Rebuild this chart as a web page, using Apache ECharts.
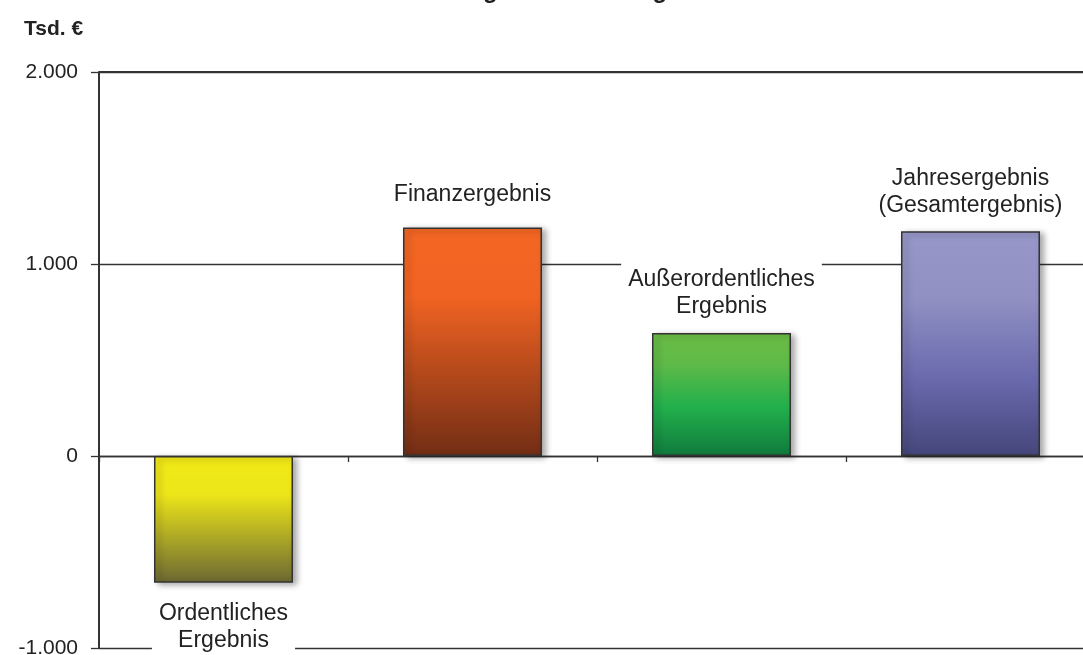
<!DOCTYPE html>
<html>
<head>
<meta charset="utf-8">
<script src="https://cdn.jsdelivr.net/npm/echarts@6/dist/echarts.min.js"></script>
<style>
html,body{margin:0;padding:0;background:#fff;}
#c{width:1083px;height:655px;}
</style>
</head>
<body>
<div id="c"></div>
<script>
var categories = ['Ordentliches\nErgebnis', 'Finanzergebnis', 'Außerordentliches\nErgebnis', 'Jahresergebnis\n(Gesamtergebnis)'];
var values = [-660, 1190, 640, 1170];
var yTicks = [-1000, 0, 1000, 2000];
var unitLabel = 'Tsd. €';
var titleText = 'Zusammensetzung des Jahresergebnisses';

var gradients = [
  [[0, '#f2ea17'], [0.3, '#ede619'], [1, '#6b6833']],
  [[0, '#f36624'], [0.3, '#f16322'], [1, '#722d15']],
  [[0, '#6bbd46'], [0.25, '#5fba48'], [0.6, '#22b04c'], [1, '#107a3d']],
  [[0, '#9797c9'], [0.3, '#9090c3'], [0.65, '#6a6aae'], [1, '#45467a']]
];
var labelGaps = [17, 19, 13, 12];

var FONT = 'Liberation Sans, Arial, sans-serif';

function grad(stops) {
  return new echarts.graphic.LinearGradient(0, 0, 0, 1,
    stops.map(function (s) { return { offset: s[0], color: s[1] }; }));
}

var data = values.map(function (v, i) {
  return {
    value: v,
    itemStyle: { color: grad(gradients[i]) },
    label: {
      show: true,
      position: v < 0 ? 'bottom' : 'top',
      distance: labelGaps[i],
      formatter: categories[i],
      fontFamily: FONT,
      fontSize: 23,
      lineHeight: 27,
      color: '#222',
      backgroundColor: '#fff',
      padding: v < 0 ? [0, 7, 6, 7] : [6, 7, 0, 7]
    }
  };
});

var chart = echarts.init(document.getElementById('c'));
chart.setOption({
  animation: false,
  backgroundColor: '#fff',
  title: [
    {
      text: titleText, left: 520, top: -26, textAlign: 'center',
      textStyle: { fontFamily: FONT, fontSize: 24, fontWeight: 'bold', color: '#222' }
    },
    {
      text: unitLabel, left: 19, top: 14,
      textStyle: { fontFamily: FONT, fontSize: 21, fontWeight: 'bold', color: '#222' }
    }
  ],
  grid: { left: 99, width: 996, top: 72, height: 576, containLabel: false, outerBoundsMode: 'none' },
  xAxis: {
    type: 'category',
    data: categories,
    axisLine: { onZero: true, lineStyle: { color: '#333', width: 1.3 } },
    axisTick: { show: true, length: 6, inside: false, lineStyle: { color: '#333', width: 1.3 } },
    axisLabel: { show: false },
    splitLine: { show: false }
  },
  yAxis: {
    type: 'value',
    min: yTicks[0],
    max: yTicks[yTicks.length - 1],
    interval: 1000,
    axisLine: { show: true, lineStyle: { color: '#333', width: 2 } },
    axisTick: { show: true, length: 8, lineStyle: { color: '#333', width: 1.3 } },
    axisLabel: {
      margin: 21,
      fontFamily: FONT,
      fontSize: 21,
      color: '#222',
      formatter: function (v) {
        var s = Math.abs(v).toString().replace(/\B(?=(\d{3})+(?!\d))/g, '.');
        return (v < 0 ? '-' : '') + s;
      }
    },
    splitLine: { show: true, lineStyle: { color: '#333', width: 1.3 } }
  },
  series: [{
    type: 'bar',
    data: data,
    barWidth: 139,
    itemStyle: {
      borderColor: '#333',
      borderWidth: 1.5,
      shadowColor: 'rgba(0,0,0,0.35)',
      shadowBlur: 6,
      shadowOffsetX: 4,
      shadowOffsetY: 2
    },
    markLine: {
      silent: true,
      symbol: 'none',
      label: { show: false },
      lineStyle: { color: '#333', width: 2.2, type: 'solid' },
      data: [{ yAxis: yTicks[yTicks.length - 1] }]
    }
  }]
});
</script>
</body>
</html>
